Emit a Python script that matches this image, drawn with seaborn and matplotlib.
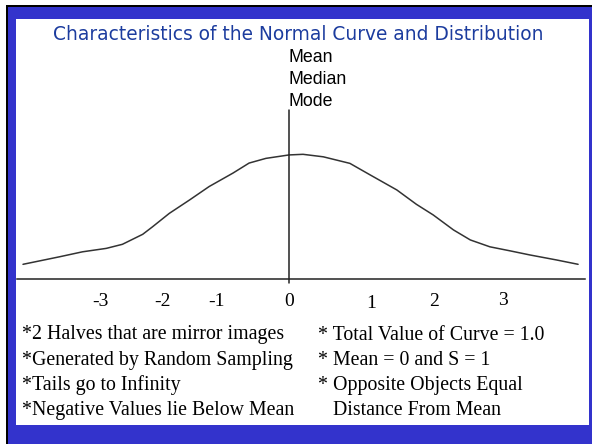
import matplotlib

matplotlib.use("Agg")
import matplotlib.pyplot as plt
import numpy as np
import pandas as pd
import seaborn as sns
from matplotlib.patches import Rectangle

# curve values (x in sigma-ish units, y as density)
curve_x = [-3.80, -3.28, -2.95, -2.61, -2.38, -2.09, -1.95, -1.71, -1.42, -1.14,
           -0.80, -0.57, -0.33, 0.00, 0.20, 0.49, 0.87, 1.16, 1.54, 1.82, 2.06,
           2.35, 2.59, 2.87, 3.16, 3.44, 3.82, 4.13]
curve_y = [0.047, 0.071, 0.087, 0.098, 0.111, 0.143, 0.167, 0.210, 0.253, 0.296,
           0.339, 0.371, 0.386, 0.397, 0.399, 0.391, 0.370, 0.333, 0.285, 0.239,
           0.205, 0.157, 0.125, 0.103, 0.090, 0.077, 0.061, 0.047]

tick_labels = ["-3", "-2", "-1", "0", "1", "2", "3"]
tick_pos = [-2.70, -1.81, -1.04, 0.0, 1.17, 2.07, 3.06]
tick_drop = [0.0, 0.0, 0.0, 0.0, 0.011, 0.0, -0.004]  # hand-placed labels sit unevenly

title = "Characteristics of the Normal Curve and Distribution"
center_labels = ["Mean", "Median", "Mode"]
left_notes = [
    "*2 Halves that are mirror images",
    "*Generated by Random Sampling",
    "*Tails go to Infinity",
    "*Negative Values lie Below Mean",
]
right_notes = [
    "* Total Value of Curve = 1.0",
    "* Mean = 0 and S = 1",
    "* Opposite Objects Equal",
    "   Distance From Mean",
]

W, H = 592, 444
BLUE = "#3333cc"

sns.set_style("white")
plt.rcParams["text.color"] = "black"
fig = plt.figure(figsize=(W / 100, H / 100), dpi=100)
fig.patch.set_facecolor("white")


def px_rect(x0, y0, x1, y1, color):
    fig.patches.append(
        Rectangle((x0 / W, 1 - y1 / H), (x1 - x0) / W, (y1 - y0) / H,
                  transform=fig.transFigure, facecolor=color, edgecolor="none", zorder=-10)
    )


def px_text(x, y, s, **kw):
    fig.text(x / W, 1 - y / H, s, **kw)


# slide frame
px_rect(6, 5, W, H, "black")
px_rect(8, 7, W, H, BLUE)
px_rect(16, 19, 589, 425, "white")

# plotting area: bottom spine is the horizontal axis line
ax = fig.add_axes([17 / W, 1 - 279 / H, (585 - 17) / W, (279 - 40) / H])
ax.patch.set_alpha(0)
df = pd.DataFrame({"x": curve_x, "y": curve_y})
sns.lineplot(data=df, x="x", y="y", ax=ax, color="#333333", linewidth=1.1, sort=False)
ax.set_xlim((17 - 289) / 70, (585 - 289) / 70)
ax.set_ylim(0, (279 - 40) / 312.5)
ax.axvline(0, ymin=-0.017, ymax=(279 - 110) / (279 - 40), color="#222222",
           linewidth=1.1, clip_on=False)
for s in ["top", "left", "right"]:
    ax.spines[s].set_visible(False)
ax.spines["bottom"].set_color("#222222")
ax.spines["bottom"].set_linewidth(1.1)
ax.set_xticks([])
ax.set_yticks([])
ax.set_xlabel("")
ax.set_ylabel("")

serif = ["Liberation Serif", "DejaVu Serif"]
for lab, pos, dy in zip(tick_labels, tick_pos, tick_drop):
    ax.text(pos, -0.093 - dy, lab, ha="center", va="center", fontsize=14,
            family=serif, color="black", transform=ax.get_xaxis_transform())

# title and the Mean/Median/Mode stack
px_text(298, 34, title, ha="center", va="center", fontsize=13.4,
        color="#1c3c9e", family=["DejaVu Sans"])
for i, lab in enumerate(center_labels):
    px_text(289, 57 + 22 * i, lab, ha="left", va="center", fontsize=12.8,
            family=["Liberation Sans", "DejaVu Sans"], color="black")

for i, (l, r) in enumerate(zip(left_notes, right_notes)):
    px_text(22, 335 + 25 * i, l, ha="left", va="center", fontsize=14.3,
            family=serif, color="black")
    px_text(318, 335 + 25 * i, r, ha="left", va="center", fontsize=14.3,
            family=serif, color="black")

fig.savefig("out.png", dpi=100)
